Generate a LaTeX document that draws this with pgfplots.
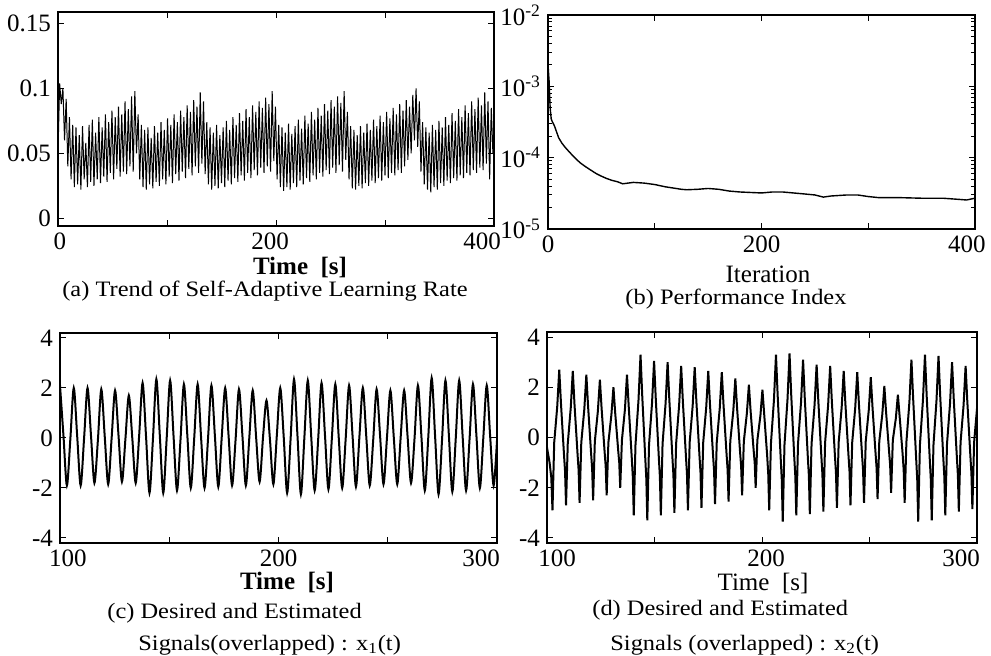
\documentclass[border=0pt]{standalone}
\usepackage{fontspec}
\setmainfont{Liberation Serif}
\newfontfamily\capfont{Liberation Serif}[FakeStretch=1.11]
\usepackage{pgfplots}
\pgfplotsset{compat=1.18}
\pgfplotsset{
  base/.style={
    scale only axis,
    axis line style={line width=0.6pt},
    tick style={line width=0.5pt,black},
    major tick length=3pt,
    minor tick length=1.8pt,
    tick align=inside,
    ticklabel style={font=\fontsize{12.5}{14}\selectfont},
    /pgf/number format/assume math mode=true,
    clip=true,
  }
}
\begin{document}
\begin{tikzpicture}
\useasboundingbox (0pt,0pt) rectangle (495.5pt,328pt);
% ---------- (a) ----------
\begin{axis}[base, at={(29pt,215pt)}, anchor=south west,
  width=218pt, height=107pt,
  xmin=0, xmax=400, ymin=-0.006, ymax=0.159,
  xtick={0,100,200,300,400}, xticklabels={{\hspace{2pt}0},,{\hspace{-6pt}200},,{\hspace{-12pt}400}},
  ytick={0,0.05,0.1,0.15}, yticklabels={0,0.05,0.1,0.15}]
\addplot[black, line width=0.5pt] coordinates {
(0,0.050) (1.5,0.104) (3,0.088) (4.5,0.100) (6,0.060) (7.5,0.092) (9,0.040) (10.5,0.078)
(12,0.030) (13.5,0.072) (15,0.024) (16.5,0.070) (18,0.026) (19.5,0.064) (21,0.022) (22.5,0.071)
(24,0.030) (25.5,0.058) (27,0.024) (28.5,0.072) (30,0.028) (31.5,0.076) (33,0.025) (34.5,0.066)
(36,0.030) (37.5,0.078) (39,0.027) (40.5,0.070) (42,0.032) (43.5,0.080) (45,0.028) (46.5,0.074)
(48,0.035) (49.5,0.083) (51,0.030) (52.5,0.078) (54,0.038) (55.5,0.086) (57,0.032) (58.5,0.080)
(60,0.036) (61.5,0.090) (63,0.034) (64.5,0.084) (66,0.040) (67.5,0.094) (69,0.036) (70.5,0.098)
(72,0.050) (73.5,0.080)
(75,0.030) (76.5,0.072) (78,0.024) (79.5,0.068) (81,0.022) (82.5,0.070) (84,0.026) (85.5,0.062)
(87,0.023) (88.5,0.071) (90,0.028) (91.5,0.066) (93,0.025) (94.5,0.074) (96,0.030) (97.5,0.068)
(99,0.026) (100.5,0.077) (102,0.032) (103.5,0.072) (105,0.027) (106.5,0.080) (108,0.034) (109.5,0.074)
(111,0.029) (112.5,0.083) (114,0.036) (115.5,0.078) (117,0.031) (118.5,0.087) (120,0.038) (121.5,0.082)
(123,0.033) (124.5,0.091) (126,0.040) (127.5,0.086) (129,0.035) (130.5,0.097) (132,0.042) (133.5,0.090)
(135,0.034) (136.5,0.074) (138,0.026) (139.5,0.070) (141,0.022) (142.5,0.066) (144,0.025) (145.5,0.072)
(147,0.023) (148.5,0.064) (150,0.027) (151.5,0.070) (153,0.024) (154.5,0.075) (156,0.029) (157.5,0.068)
(159,0.026) (160.5,0.078) (162,0.031) (163.5,0.072) (165,0.028) (166.5,0.081) (168,0.033) (169.5,0.075)
(171,0.029) (172.5,0.084) (174,0.035) (175.5,0.078) (177,0.031) (178.5,0.087) (180,0.037) (181.5,0.082)
(183,0.033) (184.5,0.090) (186,0.039) (187.5,0.085) (189,0.035) (190.5,0.093) (192,0.040) (193.5,0.088)
(195,0.036) (196.5,0.098) (198,0.044) (199.5,0.086)
(201,0.030) (202.5,0.072) (204,0.024) (205.5,0.070) (207,0.021) (208.5,0.066) (210,0.024) (211.5,0.073)
(213,0.022) (214.5,0.065) (216,0.027) (217.5,0.071) (219,0.024) (220.5,0.076) (222,0.029) (223.5,0.069)
(225,0.026) (226.5,0.079) (228,0.031) (229.5,0.073) (231,0.028) (232.5,0.082) (234,0.033) (235.5,0.076)
(237,0.030) (238.5,0.085) (240,0.035) (241.5,0.079) (243,0.032) (244.5,0.088) (246,0.037) (247.5,0.083)
(249,0.034) (250.5,0.091) (252,0.039) (253.5,0.086) (255,0.035) (256.5,0.094) (258,0.041) (259.5,0.089)
(261,0.036) (262.5,0.098) (264,0.045) (265.5,0.082)
(267,0.030) (268.5,0.071) (270,0.023) (271.5,0.068) (273,0.022) (274.5,0.064) (276,0.025) (277.5,0.071)
(279,0.023) (280.5,0.066) (282,0.027) (283.5,0.073) (285,0.025) (286.5,0.068) (288,0.029) (289.5,0.076)
(291,0.027) (292.5,0.071) (294,0.031) (295.5,0.079) (297,0.029) (298.5,0.074) (300,0.033) (301.5,0.082)
(303,0.031) (304.5,0.077) (306,0.035) (307.5,0.085) (309,0.033) (310.5,0.080) (312,0.037) (313.5,0.088)
(315,0.035) (316.5,0.083) (318,0.040) (319.5,0.091) (321,0.045) (322.5,0.086) (324,0.050) (325.5,0.095)
(327,0.060) (328.5,0.100) (330,0.055) (331.5,0.090)
(333,0.036) (334.5,0.074) (336,0.026) (337.5,0.070) (339,0.022) (340.5,0.066) (342,0.020) (343.5,0.072)
(345,0.024) (346.5,0.068) (348,0.022) (349.5,0.075) (351,0.027) (352.5,0.070) (354,0.025) (355.5,0.078)
(357,0.029) (358.5,0.072) (360,0.027) (361.5,0.081) (363,0.031) (364.5,0.075) (366,0.029) (367.5,0.084)
(369,0.033) (370.5,0.078) (372,0.031) (373.5,0.087) (375,0.035) (376.5,0.081) (378,0.033) (379.5,0.090)
(381,0.037) (382.5,0.084) (384,0.035) (385.5,0.093) (387,0.039) (388.5,0.087) (390,0.037) (391.5,0.097)
(393,0.042) (394.5,0.090) (396,0.030) (397.5,0.085) (399,0.050) (400,0.070)
};
\end{axis}
% ---------- (b) ----------
\begin{axis}[base, at={(274pt,213.5pt)}, anchor=south west,
  width=213.5pt, height=107pt,
  xmin=0, xmax=400, ymode=log, ymin=1e-5, ymax=1e-2,
  xtick={0,100,200,300,400}, xticklabels={0,,200,,{\hspace{-8pt}400}},
  ytick={1e-5,1e-4,1e-3,1e-2},
  yticklabels={10\textsuperscript{-5},10\textsuperscript{-4},10\textsuperscript{-3},10\textsuperscript{-2}}]
\addplot[black, line width=0.7pt] coordinates {
(0,2.0e-3) (1,1.2e-3) (2,5e-4) (3,3.5e-4) (4,3.2e-4) (5,3.0e-4) (6,2.8e-4) (8,2.3e-4)
(10,1.9e-4) (13,1.6e-4) (16,1.4e-4) (20,1.2e-4) (25,1.0e-4) (30,8.5e-5) (35,7.5e-5) (40,6.7e-5)
(45,6.0e-5) (50,5.5e-5) (55,5.1e-5) (60,4.8e-5) (65,4.6e-5) (70,4.3e-5) (75,4.4e-5) (80,4.5e-5)
(90,4.4e-5) (100,4.2e-5) (110,3.9e-5) (120,3.7e-5) (125,3.6e-5) (130,3.55e-5) (140,3.6e-5)
(150,3.7e-5) (160,3.6e-5) (170,3.4e-5) (180,3.3e-5) (190,3.25e-5) (200,3.2e-5) (210,3.3e-5)
(220,3.3e-5) (230,3.2e-5) (240,3.1e-5) (250,3.0e-5) (258,2.8e-5) (265,2.9e-5) (280,3.0e-5)
(290,3.0e-5) (300,2.85e-5) (310,2.75e-5) (330,2.75e-5) (350,2.7e-5) (370,2.7e-5) (385,2.6e-5)
(392,2.55e-5) (400,2.7e-5)
};
\end{axis}
% ---------- (c) ----------
\begin{axis}[base, at={(30pt,56.5pt)}, anchor=south west,
  width=218.5pt, height=105pt,
  xmin=100, xmax=300, ymin=-4.2, ymax=4.2,
  xtick={100,150,200,250,300}, xticklabels={{\hspace{8pt}100},,200,,{\hspace{-16pt}300}},
  ytick={-4,-2,0,2,4}, yticklabels={-4,-2,0,2,4}]
\addplot[black, line width=1pt, smooth] coordinates {
(100,2.1) (101.58,0.1) (103.15,-1.9) (104.73,-0.05)
(106.3,2.0) (107.88,0.05) (109.45,-1.9) (111.03,0.0)
(112.6,2.0) (114.18,0.1) (115.75,-1.8) (117.33,-0.1)
(118.9,1.95) (120.48,0.05) (122.05,-1.85) (123.63,0.0)
(125.2,1.9) (126.78,0.1) (128.35,-1.75) (129.93,-0.05)
(131.5,1.7) (133.08,0.0) (134.65,-1.8) (136.23,0.1)
(137.8,2.2) (139.38,0.05) (140.95,-2.2) (142.53,-0.05)
(144.1,2.35) (145.68,0.1) (147.25,-2.2) (148.83,0.0)
(150.4,2.3) (151.98,0.05) (153.55,-2.1) (155.13,-0.1)
(156.7,2.15) (158.28,0.1) (159.85,-2.0) (161.43,0.0)
(163.0,2.15) (164.58,0.0) (166.15,-2.0) (167.73,-0.05)
(169.3,2.1) (170.88,0.1) (172.45,-1.95) (174.03,0.05)
(175.6,2.0) (177.18,0.05) (178.75,-1.9) (180.33,-0.1)
(181.9,1.95) (183.48,0.1) (185.05,-1.9) (186.63,0.0)
(188.2,1.9) (189.78,0.0) (191.35,-1.75) (192.93,0.05)
(194.5,1.5) (196.08,-0.05) (197.65,-1.85) (199.23,0.1)
(200.8,2.0) (202.38,0.05) (203.95,-2.2) (205.53,-0.05)
(207.1,2.35) (208.68,0.1) (210.25,-2.25) (211.83,0.0)
(213.4,2.3) (214.98,0.05) (216.55,-2.1) (218.13,-0.1)
(219.7,2.2) (221.28,0.1) (222.85,-2.05) (224.43,0.0)
(226.0,2.15) (227.58,0.0) (229.15,-2.0) (230.73,-0.05)
(232.3,2.1) (233.88,0.1) (235.45,-1.95) (237.03,0.05)
(238.6,2.0) (240.18,0.05) (241.75,-1.9) (243.33,-0.1)
(244.9,1.95) (246.48,0.1) (248.05,-1.85) (249.63,0.0)
(251.2,1.9) (252.78,0.0) (254.35,-1.85) (255.93,0.05)
(257.5,1.9) (259.08,0.05) (260.65,-1.8) (262.23,-0.05)
(263.8,2.1) (265.38,0.1) (266.95,-2.1) (268.53,0.0)
(270.1,2.4) (271.68,0.05) (273.25,-2.25) (274.83,-0.1)
(276.4,2.3) (277.98,0.1) (279.55,-2.15) (281.13,0.0)
(282.7,2.3) (284.28,0.05) (285.85,-2.1) (287.43,-0.05)
(289.0,2.15) (290.58,0.1) (292.15,-2.0) (293.73,0.0)
(295.3,2.1) (296.88,0.05) (298.45,-1.9) (300.0,-0.1)
};
\end{axis}
% ---------- (d) ----------
\begin{axis}[base, at={(273.5pt,56.5pt)}, anchor=south west,
  width=215pt, height=105.5pt,
  xmin=100, xmax=300, ymin=-4.2, ymax=4.2,
  xtick={100,150,200,250,300}, xticklabels={{\hspace{10pt}100},,{\hspace{4pt}200},,{\hspace{-16pt}300}},
  ytick={-4,-2,0,2,4}, yticklabels={-4,-2,0,2,4}]
\addplot[black, line width=1pt] coordinates {
(100,-0.4) (101.2,-1.0) (102.0,-1.6)
(102.55,-2.9) (103.35,-0.2) (104.75,1.22) (105.7,2.7) (106.5,1.35) (107.9,-0.68) (108.4,-1.35)
(108.85,-2.7) (109.65,-0.25) (111.05,1.19) (112.0,2.65) (112.8,1.3) (114.2,-0.65) (114.7,-1.3)
(115.15,-2.6) (115.95,-0.2) (117.35,1.12) (118.3,2.5) (119.1,1.25) (120.5,-0.62) (121.0,-1.25)
(121.45,-2.5) (122.25,-0.15) (123.65,1.04) (124.6,2.3) (125.4,1.15) (126.8,-0.58) (127.3,-1.15)
(127.75,-2.3) (128.55,-0.2) (129.95,0.9) (130.9,2.0) (131.7,1.0) (133.1,-0.5) (133.6,-1.0)
(134.05,-2.0) (134.85,-0.1) (136.25,1.12) (137.2,2.5) (138.0,1.25) (139.4,-0.78) (139.9,-1.55)
(140.35,-3.1) (141.15,-0.3) (142.55,1.48) (143.5,3.3) (144.3,1.65) (145.7,-0.82) (146.2,-1.65)
(146.65,-3.3) (147.45,-0.3) (148.85,1.37) (149.8,3.05) (150.6,1.52) (152.0,-0.78) (152.5,-1.55)
(152.95,-3.1) (153.75,-0.25) (155.15,1.35) (156.1,3.0) (156.9,1.5) (158.3,-0.75) (158.8,-1.5)
(159.25,-3.0) (160.05,-0.25) (161.45,1.28) (162.4,2.85) (163.2,1.42) (164.6,-0.72) (165.1,-1.45)
(165.55,-2.9) (166.35,-0.2) (167.75,1.26) (168.7,2.8) (169.5,1.4) (170.9,-0.7) (171.4,-1.4)
(171.85,-2.8) (172.65,-0.2) (174.05,1.19) (175.0,2.65) (175.8,1.32) (177.2,-0.66) (177.7,-1.32)
(178.15,-2.65) (178.95,-0.2) (180.35,1.17) (181.3,2.6) (182.1,1.3) (183.5,-0.64) (184.0,-1.28)
(184.45,-2.55) (185.25,-0.15) (186.65,1.06) (187.6,2.35) (188.4,1.18) (189.8,-0.58) (190.3,-1.15)
(190.75,-2.3) (191.55,-0.15) (192.95,0.95) (193.9,2.1) (194.7,1.05) (196.1,-0.5) (196.6,-1.0)
(197.05,-2.0) (197.85,-0.1) (199.25,0.86) (200.2,1.9) (201.0,0.95) (202.4,-0.72) (202.9,-1.45)
(203.35,-2.9) (204.15,-0.25) (205.55,1.48) (206.5,3.3) (207.3,1.65) (208.7,-0.84) (209.2,-1.68)
(209.65,-3.35) (210.45,-0.3) (211.85,1.5) (212.8,3.35) (213.6,1.68) (215.0,-0.78) (215.5,-1.55)
(215.95,-3.1) (216.75,-0.25) (218.15,1.4) (219.1,3.1) (219.9,1.55) (221.3,-0.76) (221.8,-1.52)
(222.25,-3.05) (223.05,-0.25) (224.45,1.3) (225.4,2.9) (226.2,1.45) (227.6,-0.74) (228.1,-1.48)
(228.55,-2.95) (229.35,-0.2) (230.75,1.28) (231.7,2.85) (232.5,1.42) (233.9,-0.7) (234.4,-1.4)
(234.85,-2.8) (235.65,-0.2) (237.05,1.19) (238.0,2.65) (238.8,1.32) (240.2,-0.68) (240.7,-1.35)
(241.15,-2.7) (241.95,-0.2) (243.35,1.17) (244.3,2.6) (245.1,1.3) (246.5,-0.65) (247.0,-1.3)
(247.45,-2.6) (248.25,-0.15) (249.65,1.08) (250.6,2.4) (251.4,1.2) (252.8,-0.61) (253.3,-1.22)
(253.75,-2.45) (254.55,-0.15) (255.95,0.92) (256.9,2.05) (257.7,1.02) (259.1,-0.55) (259.6,-1.1)
(260.05,-2.2) (260.85,-0.1) (262.25,0.76) (263.2,1.7) (264.0,0.85) (265.4,-0.65) (265.9,-1.3)
(266.35,-2.6) (267.15,-0.2) (268.55,1.4) (269.5,3.1) (270.3,1.55) (271.7,-0.84) (272.2,-1.68)
(272.65,-3.35) (273.45,-0.3) (274.85,1.48) (275.8,3.3) (276.6,1.65) (278.0,-0.82) (278.5,-1.65)
(278.95,-3.3) (279.75,-0.3) (281.15,1.46) (282.1,3.25) (282.9,1.62) (284.3,-0.78) (284.8,-1.55)
(285.25,-3.1) (286.05,-0.25) (287.45,1.35) (288.4,3.0) (289.2,1.5) (290.6,-0.74) (291.1,-1.48)
(291.55,-2.95) (292.35,-0.2) (293.75,1.28) (294.7,2.85) (295.5,1.42) (296.9,-0.71) (297.4,-1.42)
(297.85,-2.85) (298.65,-0.2) (300.05,1.2)
};
\end{axis}
% ---------- labels and captions ----------
\node[font=\fontsize{12.5}{14}\selectfont\bfseries, inner sep=0pt] at (150pt,194pt) {Time\ \ [s]};
\node[font=\fontsize{11}{13}\selectfont\capfont, inner sep=0pt] at (132.5pt,182.5pt) {(a) Trend of Self-Adaptive Learning Rate};
\node[font=\fontsize{12.5}{14}\selectfont, inner sep=0pt] at (384pt,191pt) {Iteration};
\node[font=\fontsize{11}{13}\selectfont\capfont, inner sep=0pt] at (368pt,178.5pt) {(b) Performance Index};
\node[font=\fontsize{12.5}{14}\selectfont\bfseries, inner sep=0pt] at (143.5pt,36.5pt) {Time\ \ [s]};
\node[font=\fontsize{11}{13}\selectfont\capfont, anchor=west, inner sep=0pt] at (53.5pt,21.5pt) {(c) Desired and Estimated};
\node[font=\fontsize{11}{13}\selectfont\capfont, anchor=west, inner sep=0pt] at (69pt,5.5pt) {Signals(overlapped) : x\textsubscript{1}(t)};
\node[font=\fontsize{12.5}{14}\selectfont, inner sep=0pt] at (381.5pt,36pt) {Time\ \ [s]};
\node[font=\fontsize{11}{13}\selectfont\capfont, anchor=west, inner sep=0pt] at (296pt,23pt) {(d) Desired and Estimated};
\node[font=\fontsize{11}{13}\selectfont\capfont, anchor=west, inner sep=0pt] at (305pt,5.5pt) {Signals (overlapped) : x\textsubscript{2}(t)};
\end{tikzpicture}
\end{document}
